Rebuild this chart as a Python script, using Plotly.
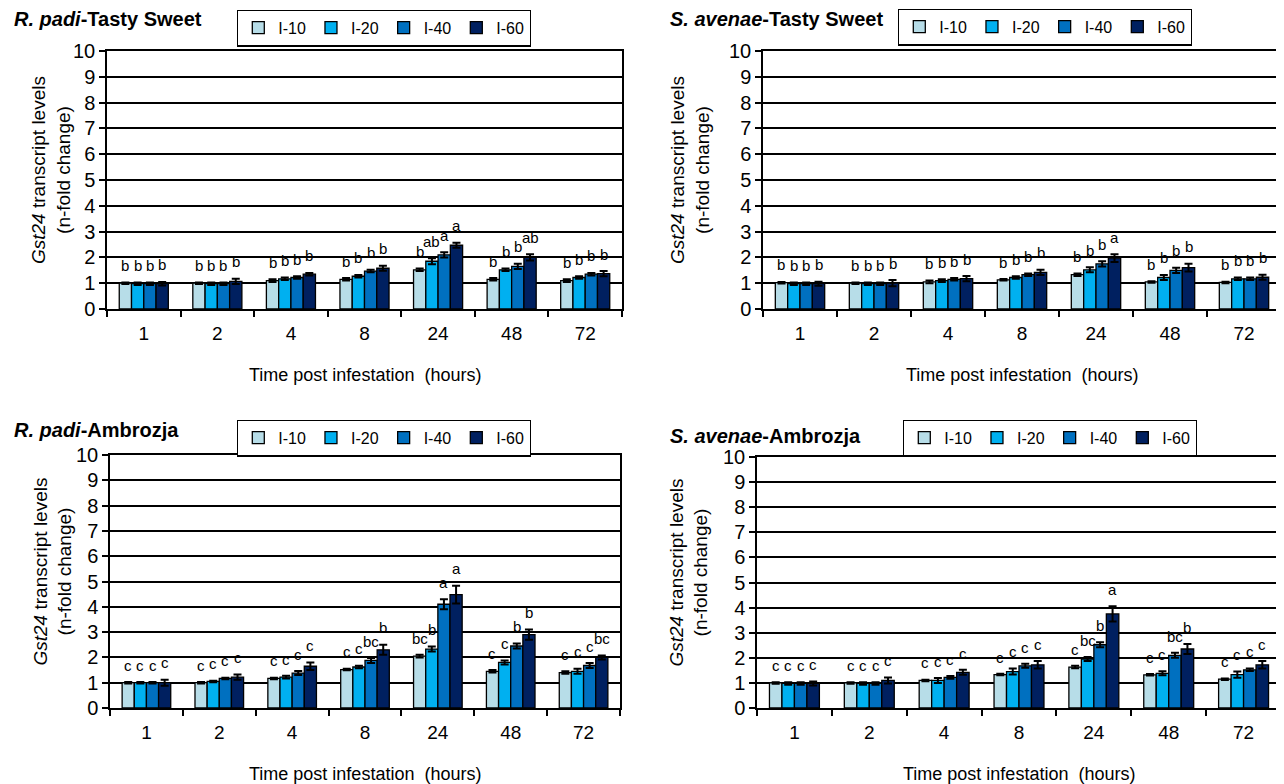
import plotly.graph_objects as go

times = ["1", "2", "4", "8", "24", "48", "72"]
series = ["I-10", "I-20", "I-40", "I-60"]
colors = ["#B7DDE8", "#00B0F0", "#0070C0", "#002060"]

panel_titles = ["<b><i>R. padi</i>-Tasty Sweet</b>", "<b><i>S. avenae</i>-Tasty Sweet</b>",
                "<b><i>R. padi</i>-Ambrozja</b>", "<b><i>S. avenae</i>-Ambrozja</b>"]

# values[panel][series][time]
rp_ts = [[1.00, 1.00, 1.10, 1.15, 1.52, 1.15, 1.10],
         [0.98, 0.98, 1.17, 1.27, 1.85, 1.52, 1.22],
         [0.98, 0.98, 1.22, 1.47, 2.10, 1.65, 1.35],
         [0.98, 1.07, 1.35, 1.58, 2.47, 2.00, 1.37]]
rp_ts_err = [[0.03, 0.03, 0.05, 0.05, 0.05, 0.05, 0.05],
             [0.05, 0.05, 0.05, 0.05, 0.12, 0.05, 0.05],
             [0.05, 0.05, 0.05, 0.05, 0.10, 0.10, 0.05],
             [0.07, 0.10, 0.05, 0.10, 0.10, 0.12, 0.10]]
rp_ts_let = [["b", "b", "b", "b", "b", "b", "b"],
             ["b", "b", "b", "b", "ab", "b", "b"],
             ["b", "b", "b", "b", "a", "b", "b"],
             ["b", "b", "b", "b", "a", "ab", "b"]]

sa_ts = [[1.02, 1.00, 1.05, 1.13, 1.33, 1.05, 1.03],
         [0.98, 0.98, 1.10, 1.22, 1.52, 1.22, 1.17],
         [0.98, 0.98, 1.15, 1.33, 1.75, 1.50, 1.17],
         [0.98, 1.00, 1.18, 1.42, 1.97, 1.60, 1.23]]
sa_ts_err = [[0.03, 0.03, 0.05, 0.03, 0.05, 0.03, 0.03],
             [0.05, 0.05, 0.05, 0.05, 0.10, 0.10, 0.05],
             [0.05, 0.05, 0.05, 0.05, 0.10, 0.10, 0.05],
             [0.08, 0.12, 0.10, 0.10, 0.15, 0.15, 0.10]]
sa_ts_let = [["b", "b", "b", "b", "b", "b", "b"],
             ["b", "b", "b", "b", "b", "b", "b"],
             ["b", "b", "b", "b", "b", "b", "b"],
             ["b", "b", "b", "b", "a", "b", "b"]]

rp_am = [[1.00, 1.00, 1.17, 1.52, 2.05, 1.45, 1.40],
         [1.00, 1.05, 1.22, 1.62, 2.33, 1.80, 1.45],
         [1.00, 1.17, 1.38, 1.88, 4.10, 2.45, 1.68],
         [1.00, 1.22, 1.65, 2.30, 4.48, 2.90, 2.00]]
rp_am_err = [[0.03, 0.03, 0.03, 0.03, 0.05, 0.05, 0.05],
             [0.03, 0.03, 0.05, 0.05, 0.10, 0.08, 0.10],
             [0.03, 0.03, 0.08, 0.10, 0.20, 0.10, 0.10],
             [0.12, 0.10, 0.15, 0.20, 0.35, 0.20, 0.08]]
rp_am_let = [["c", "c", "c", "c", "bc", "c", "c"],
             ["c", "c", "c", "c", "b", "c", "c"],
             ["c", "c", "c", "bc", "a", "b", "c"],
             ["c", "c", "c", "b", "a", "b", "bc"]]

sa_am = [[1.00, 1.00, 1.10, 1.33, 1.63, 1.32, 1.15],
         [0.98, 0.98, 1.10, 1.45, 1.95, 1.38, 1.33],
         [0.98, 0.98, 1.22, 1.68, 2.52, 2.10, 1.52],
         [0.98, 1.10, 1.42, 1.72, 3.75, 2.35, 1.72]]
sa_am_err = [[0.03, 0.03, 0.03, 0.03, 0.05, 0.03, 0.03],
             [0.05, 0.05, 0.10, 0.12, 0.08, 0.08, 0.12],
             [0.05, 0.05, 0.05, 0.08, 0.10, 0.10, 0.05],
             [0.08, 0.12, 0.10, 0.15, 0.30, 0.20, 0.15]]
sa_am_let = [["c", "c", "c", "c", "c", "c", "c"],
             ["c", "c", "c", "c", "bc", "c", "c"],
             ["c", "c", "c", "c", "b", "bc", "c"],
             ["c", "c", "c", "c", "a", "b", "c"]]

panels = [(rp_ts, rp_ts_err, rp_ts_let), (sa_ts, sa_ts_err, sa_ts_let),
          (rp_am, rp_am_err, rp_am_let), (sa_am, sa_am_err, sa_am_let)]

OFF = 8  # page body margin offset
W, H = 1284 - OFF, 784 - OFF
# screen pixel boxes (left, right, top, bottom)
boxes = [(107, 622, 51, 309), (763, 1281, 51, 309),
         (110, 620, 455, 708), (757, 1281, 457, 708)]
# legend frame (left x, centre y)
legend_pos = [(237, 28), (898, 27), (237, 438), (903, 438)]
title_pos = [(12, 19), (668, 19), (12, 430), (668, 436)]
ytitle_x = [51, 690, 52, 688]


def px(v):
    return (v - OFF) / W


def py(v):
    return 1 - (v - OFF) / H


FONT = "Liberation Sans, Arial, sans-serif"
BARGAP = 0.333

fig = go.Figure()
annotations = []
layout = {}
for p, (vals, errs, lets) in enumerate(panels):
    ax = "" if p == 0 else str(p + 1)
    leg = "legend" if p == 0 else "legend" + str(p + 1)
    for s in range(4):
        fig.add_trace(go.Bar(
            x=times, y=vals[s], name=series[s],
            xaxis="x" + ax, yaxis="y" + ax, legend=leg,
            marker=dict(color=colors[s], line=dict(color="black", width=1.3)),
            error_y=dict(type="data", array=errs[s], color="black", thickness=2, width=4),
        ))
        bw = (1 - BARGAP) / 4
        for i in range(len(times)):
            annotations.append(dict(
                x=i - (1 - BARGAP) / 2 + bw * (s + 0.5), y=vals[s][i] + errs[s][i] + 0.25,
                xref="x" + ax, yref="y" + ax, text=lets[s][i], showarrow=False,
                yanchor="bottom", font=dict(size=15, color="black", family=FONT)))
    l, r, t, b = boxes[p]
    layout["xaxis" + ax] = dict(
        domain=[px(l), px(r)], anchor="y" + ax, type="category", automargin=False,
        showline=True, linecolor="black", linewidth=1.5, mirror=True,
        ticks="outside", tickson="boundaries", ticklen=6, tickwidth=1.5, tickcolor="black",
        ticklabelstandoff=6,
        showgrid=False, tickfont=dict(size=19, color="black", family=FONT),
        fixedrange=True)
    layout["yaxis" + ax] = dict(
        domain=[py(b), py(t)], anchor="x" + ax, range=[0, 10], dtick=1, automargin=False,
        showline=True, linecolor="black", linewidth=1.5, mirror=True,
        ticks="outside", ticklen=6, tickwidth=1.5, tickcolor="black",
        showgrid=True, gridcolor="black", gridwidth=1.5, zeroline=False,
        tickfont=dict(size=20, color="black", family=FONT), fixedrange=True)
    lx, ly = legend_pos[p]
    layout[leg] = dict(
        x=px(lx), y=py(ly), xanchor="left", yanchor="middle", orientation="h",
        bordercolor="black", borderwidth=1.3, bgcolor="white",
        font=dict(size=16, color="black", family=FONT), itemwidth=30,
        tracegroupgap=0)
    tx, ty = title_pos[p]
    annotations.append(dict(x=px(tx), y=py(ty), xref="paper", yref="paper",
                            xanchor="left", yanchor="middle", text=panel_titles[p],
                            showarrow=False, font=dict(size=20, color="black", family=FONT)))
    annotations.append(dict(x=px(ytitle_x[p]), y=py((t + b) / 2 - 10), xref="paper", yref="paper",
                            xanchor="center", yanchor="middle", textangle=-90,
                            text="<i>Gst24</i> transcript levels<br>(n-fold change)",
                            showarrow=False, font=dict(size=19, color="black", family=FONT)))
    annotations.append(dict(x=px((l + r) / 2), y=py(b + 66), xref="paper", yref="paper",
                            xanchor="center", yanchor="middle",
                            text="Time post infestation  (hours)",
                            showarrow=False, font=dict(size=18, color="black", family=FONT)))

fig.update_layout(**layout)
fig.update_layout(
    width=W, height=H, margin=dict(l=0, r=0, t=0, b=0, pad=0, autoexpand=False),
    paper_bgcolor="white", plot_bgcolor="white",
    barmode="group", bargap=BARGAP, bargroupgap=0,
    annotations=annotations, font=dict(family=FONT, color="black"),
)
fig.write_html("out.html")
